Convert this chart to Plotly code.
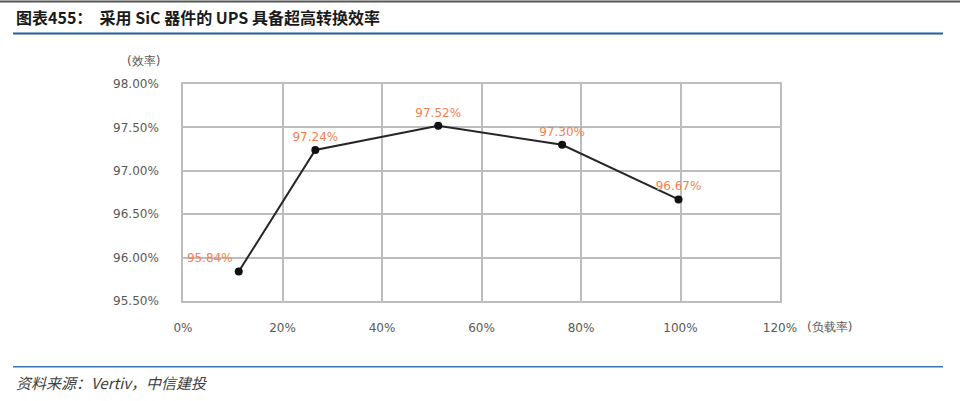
import plotly.graph_objects as go

# Data
load_rate = [11.2, 26.6, 51.3, 76.2, 99.6]          # % load
efficiency = [95.84, 97.24, 97.52, 97.30, 96.67]     # % efficiency
labels = ["95.84%", "97.24%", "97.52%", "97.30%", "96.67%"]
x_ticks = [0, 20, 40, 60, 80, 100, 120]
y_ticks = [95.5, 96.0, 96.5, 97.0, 97.5, 98.0]

title_text = "图表455：  采用 SiC 器件的 UPS 具备超高转换效率"
source_text = "资料来源：Vertiv，中信建投"

W, H = 960, 401
L, R, T, B = 183, 180, 83.5, 100
pw, ph = W - L - R, H - T - B

def px(x):
    return (x - L) / pw

def py(y):
    return (H - B - y) / ph

fig = go.Figure()
fig.add_trace(go.Scatter(
    x=load_rate, y=efficiency,
    mode="lines+markers+text",
    line=dict(color="#262626", width=2),
    marker=dict(color="#111111", size=8),
    text=labels,
    textposition=["top left", "top center", "top center", "top center", "top center"],
    textfont=dict(color="#F4804F", size=12, family="DejaVu Sans"),
    cliponaxis=False,
    hoverinfo="skip",
))

tickfont = dict(family="DejaVu Sans", size=12, color="#595959")
fig.update_xaxes(
    range=[0, 120], tickvals=x_ticks, ticktext=[f"{v}%" for v in x_ticks],
    showgrid=True, gridcolor="#BDBDBD", gridwidth=1.5,
    zeroline=False, showline=True, linecolor="#BDBDBD", linewidth=1.5, mirror=True,
    ticks="", ticklabelstandoff=15, tickfont=tickfont,
)
fig.update_yaxes(
    range=[95.5, 98.0], tickvals=y_ticks, ticktext=[f"{v:.2f}%" for v in y_ticks],
    showgrid=True, gridcolor="#BDBDBD", gridwidth=1.5,
    zeroline=False, showline=True, linecolor="#BDBDBD", linewidth=1.5, mirror=True,
    ticks="", ticklabelstandoff=20, tickfont=tickfont,
)

annotations = [
    dict(text=title_text, x=px(14), y=py(16), xref="paper", yref="paper",
         xanchor="left", yanchor="middle", showarrow=False,
         font=dict(family="Noto Sans CJK SC", size=16, color="#1a1a1a", weight="bold")),
    dict(text=source_text, x=px(14), y=py(383), xref="paper", yref="paper",
         xanchor="left", yanchor="middle", showarrow=False,
         font=dict(family="Noto Sans CJK SC", size=15, color="#404040", style="italic")),
    dict(text="(效率)", x=px(143), y=py(60), xref="paper", yref="paper",
         xanchor="center", yanchor="middle", showarrow=False, font=tickfont),
    dict(text="(负载率)", x=px(829), y=py(327), xref="paper", yref="paper",
         xanchor="center", yanchor="middle", showarrow=False, font=tickfont),
]

shapes = [
    dict(type="line", xref="paper", yref="paper", x0=px(0), x1=px(960), y0=py(0.8), y1=py(0.8),
         line=dict(color="#555555", width=2)),
    dict(type="line", xref="paper", yref="paper", x0=px(13), x1=px(943), y0=py(33), y1=py(33),
         line=dict(color="#1F5F9F", width=2)),
    dict(type="line", xref="paper", yref="paper", x0=px(13), x1=px(943), y0=py(367), y1=py(367),
         line=dict(color="#3A74AE", width=1.5)),
]

fig.update_layout(
    width=W, height=H,
    margin=dict(l=L, r=R, t=T, b=B),
    paper_bgcolor="white", plot_bgcolor="white",
    showlegend=False,
    annotations=annotations, shapes=shapes,
)

fig.write_html("out.html")
